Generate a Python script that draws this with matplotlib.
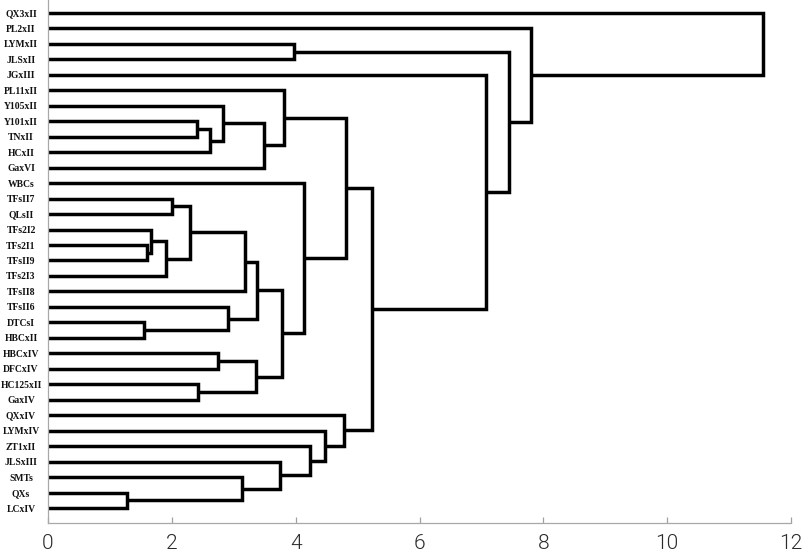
import matplotlib
matplotlib.use("Agg")
import matplotlib.pyplot as plt

leaves = ["QX3xII", "PL2xII", "LYMxII", "JLSxII", "JGxIII", "PL11xII", "Y105xII",
          "Y101xII", "TNxII", "HCxII", "GaxVI", "WBCs", "TFsII7", "QLsII", "TFs2I2",
          "TFs2I1", "TFsII9", "TFs2I3", "TFsII8", "TFsII6", "DTCsI", "HBCxII",
          "HBCxIV", "DFCxIV", "HC125xII", "GaxIV", "QXxIV", "LYMxIV", "ZT1xII",
          "JLSxIII", "SMTs", "QXs", "LCxIV"]

# merges: (left child, right child, height); children are leaf names or "m<index>"
merges = [
    ("Y101xII", "TNxII", 2.41),   # m0
    ("m0", "HCxII", 2.61),        # m1
    ("Y105xII", "m1", 2.82),      # m2
    ("m2", "GaxVI", 3.49),        # m3
    ("PL11xII", "m3", 3.81),      # m4
    ("TFs2I1", "TFsII9", 1.60),   # m5
    ("TFs2I2", "m5", 1.66),       # m6
    ("m6", "TFs2I3", 1.90),       # m7
    ("TFsII7", "QLsII", 2.01),    # m8
    ("m8", "m7", 2.29),           # m9
    ("m9", "TFsII8", 3.18),       # m10
    ("DTCsI", "HBCxII", 1.55),    # m11
    ("TFsII6", "m11", 2.90),      # m12
    ("m10", "m12", 3.37),         # m13
    ("HBCxIV", "DFCxIV", 2.74),   # m14
    ("HC125xII", "GaxIV", 2.42),  # m15
    ("m14", "m15", 3.36),         # m16
    ("m13", "m16", 3.78),         # m17
    ("WBCs", "m17", 4.14),        # m18
    ("m4", "m18", 4.81),          # m19
    ("QXs", "LCxIV", 1.28),       # m20
    ("SMTs", "m20", 3.14),        # m21
    ("JLSxIII", "m21", 3.75),     # m22
    ("ZT1xII", "m22", 4.23),      # m23
    ("LYMxIV", "m23", 4.47),      # m24
    ("QXxIV", "m24", 4.78),       # m25
    ("m19", "m25", 5.23),         # m26
    ("JGxIII", "m26", 7.08),      # m27
    ("LYMxII", "JLSxII", 3.97),   # m28
    ("m28", "m27", 7.45),         # m29
    ("PL2xII", "m29", 7.80),      # m30
    ("QX3xII", "m30", 11.54),     # m31
]

x_ticks = [0, 2, 4, 6, 8, 10, 12]

W, H = 809, 555
fig = plt.figure(figsize=(W / 100, H / 100), dpi=100)
ax = fig.add_axes([48 / W, 1 - 522.7 / H, (791 - 48) / W, 522.7 / H])

pos = {name: (0.0, float(i)) for i, name in enumerate(leaves)}
for k, (a, b, h) in enumerate(merges):
    ha_, ya = pos[a]
    hb_, yb = pos[b]
    ax.plot([ha_, h, h, hb_], [ya, ya, yb, yb], color="black", lw=2.5,
            solid_joinstyle="miter", solid_capstyle="butt")
    pos["m%d" % k] = (h, (ya + yb) / 2)

ax.set_xlim(0, 12)
ax.set_ylim(len(leaves) - 1 + 0.95, -0.84)

ax.set_yticks(range(len(leaves)))
ax.set_yticklabels(leaves, fontfamily="Liberation Serif", fontweight="bold", fontsize=6.9,
                   color="#111111")
ax.tick_params(axis="y", length=0, pad=19.4)
for lab in ax.get_yticklabels():
    lab.set_horizontalalignment("center")

ax.set_xticks(x_ticks)
ax.set_xticklabels([str(t) for t in x_ticks], fontfamily="Roboto",
                   fontweight=300, fontsize=15, color="#2a2a2a")
ax.tick_params(axis="x", direction="in", length=4.5, width=0.9, color="#a0a0a0", pad=8)

for s in ["top", "right"]:
    ax.spines[s].set_visible(False)
for s in ["left", "bottom"]:
    ax.spines[s].set_color("#a8a8a8")
    ax.spines[s].set_linewidth(0.9)

fig.savefig("out.png", dpi=100)
